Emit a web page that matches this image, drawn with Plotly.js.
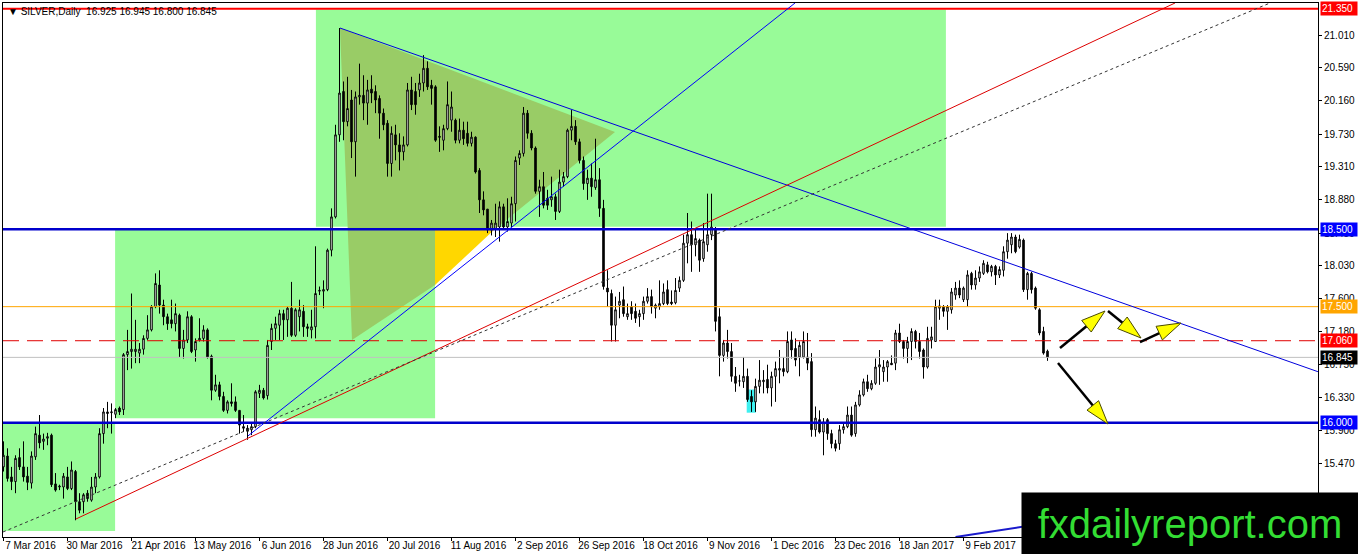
<!DOCTYPE html>
<html><head><meta charset="utf-8">
<script src="https://cdn.plot.ly/plotly-3.0.1.min.js"></script>
<style>html,body{margin:0;padding:0;background:#fff;}#chart{width:1358px;height:554px;}</style>
</head><body><div id="chart"></div>
<script>
// ---- data (daily SILVER candles) ----
const open=[15.43,15.57,15.30,15.24,15.55,15.43,15.31,15.22,15.56,15.84,
15.76,15.80,15.84,15.21,15.17,15.17,15.30,15.15,15.37,14.98,
14.98,15.09,15.00,15.17,15.30,15.86,16.14,16.13,16.11,16.19,
16.17,16.88,16.92,16.92,16.90,16.95,17.09,17.20,17.50,17.78,
17.52,17.37,17.33,17.28,17.39,16.96,17.07,17.37,16.94,17.07,
17.09,17.20,16.86,16.42,16.49,16.34,16.16,16.27,16.27,16.16,
15.95,15.93,15.91,15.95,16.38,16.42,16.35,17.05,17.22,17.26,
17.41,17.33,17.48,17.13,17.37,17.44,17.24,17.20,17.24,17.70,
17.70,17.72,18.23,18.66,19.72,20.28,19.89,20.17,19.63,20.21,
20.23,20.13,20.31,20.28,20.19,20.00,19.87,19.35,19.72,19.59,
19.50,19.59,20.30,20.28,20.30,20.39,20.58,20.36,20.34,19.70,
19.65,19.80,19.91,19.91,19.65,19.78,19.74,19.61,19.69,19.26,
18.88,18.76,18.49,18.51,18.53,18.79,18.53,18.58,18.83,19.42,
19.48,20.00,19.74,19.55,18.99,19.05,18.90,18.88,18.92,18.73,
19.11,19.18,19.78,19.83,19.63,19.39,19.09,19.16,19.04,19.14,
18.77,17.74,17.67,17.26,17.52,17.59,17.37,17.50,17.44,17.37,
17.41,17.57,17.63,17.48,17.50,17.54,17.72,17.56,17.55,17.74,
17.84,18.32,18.43,18.30,18.36,18.12,18.30,18.43,18.51,17.37,
16.87,17.03,16.92,16.60,16.54,16.53,16.60,16.34,16.27,16.47,
16.53,16.56,16.45,16.60,16.68,16.70,16.66,17.07,16.96,16.85,
16.85,16.85,16.79,15.91,16.04,15.88,16.04,15.86,15.73,15.73,
15.91,15.95,16.10,15.86,16.23,16.36,16.53,16.44,16.51,16.72,
16.66,16.72,16.77,16.77,17.16,17.05,16.96,17.05,17.18,17.05,
16.94,16.72,17.07,17.05,17.48,17.50,17.44,17.46,17.65,17.74,
17.59,17.59,17.93,17.78,17.87,17.93,18.04,17.95,18.02,17.91,
17.97,18.21,18.30,18.40,18.27,18.36,17.72,17.93,17.74,17.46,
17.18,16.925];
const high=[15.76,15.67,15.43,15.58,15.67,15.76,15.43,15.63,15.95,16.10,
15.86,15.87,15.86,15.35,15.20,15.35,15.43,15.50,15.39,15.09,
15.09,15.13,15.30,15.35,15.93,16.19,16.27,16.25,16.19,16.21,
16.90,17.20,17.67,17.33,17.03,17.13,17.39,17.52,17.93,17.97,
17.59,17.41,17.59,17.54,17.41,17.20,17.44,17.39,17.09,17.35,
17.26,17.22,16.88,16.62,16.53,16.40,16.29,16.51,16.34,16.16,
16.10,15.97,15.99,16.42,16.49,16.45,17.07,17.28,17.37,17.46,
17.46,17.50,17.82,17.48,17.59,17.52,17.28,17.46,18.28,17.76,
17.84,18.25,18.77,19.85,21.10,20.41,20.47,20.30,20.28,20.64,
20.49,20.43,20.49,20.36,20.23,20.06,19.91,19.83,19.85,19.74,
19.70,20.39,20.47,20.39,20.51,20.75,20.67,20.43,20.36,19.83,
19.85,20.41,20.28,19.93,19.93,19.89,19.89,19.76,19.70,19.29,
18.99,18.76,18.62,18.83,18.86,18.83,18.90,18.92,19.44,19.52,
20.08,20.04,19.78,19.57,19.14,19.24,19.01,19.18,18.96,19.27,
19.24,19.80,20.04,19.91,19.67,19.44,19.27,19.35,19.67,19.29,
18.88,17.97,17.72,17.63,17.69,17.76,17.54,17.57,17.54,17.46,
17.63,17.74,17.72,17.54,17.84,17.80,17.84,17.71,17.87,17.89,
18.43,18.71,18.60,18.49,18.38,18.58,18.96,18.96,18.53,17.48,
17.07,17.20,17.03,16.72,16.62,16.85,16.70,16.42,16.57,16.81,
16.68,16.75,16.66,16.79,16.94,16.85,17.18,17.18,17.09,17.05,
17.18,17.16,16.90,16.21,16.16,16.06,16.06,15.91,15.78,15.97,
15.99,16.21,16.21,16.27,16.42,16.57,16.62,16.55,16.83,16.94,
16.81,16.81,16.87,17.20,17.28,17.07,17.11,17.22,17.20,17.16,
16.96,17.24,17.24,17.59,17.59,17.52,17.52,17.74,17.82,17.84,
17.76,17.97,17.95,17.97,18.02,18.10,18.08,18.04,18.04,18.02,
18.28,18.45,18.45,18.43,18.43,18.38,17.95,17.95,17.76,17.48,
17.24,16.945];
const low=[15.37,15.24,15.13,15.09,15.39,15.24,15.13,15.15,15.52,15.67,
15.65,15.71,15.17,15.11,15.13,15.02,15.13,15.13,14.74,14.83,
14.83,14.98,14.98,15.09,15.28,15.73,15.93,15.86,16.06,16.10,
16.10,16.68,16.70,16.77,16.77,16.88,17.07,17.18,17.48,17.41,
17.26,17.20,17.22,17.18,16.85,16.83,17.03,16.90,16.79,17.05,
17.05,16.83,16.29,16.40,16.29,16.14,16.12,16.21,16.14,15.86,
15.88,15.78,15.84,15.93,16.32,16.30,16.30,16.94,17.07,17.07,
17.07,17.11,17.11,17.11,17.18,17.11,17.11,17.09,17.09,17.65,
17.48,17.70,18.15,18.64,19.63,19.65,19.83,19.42,19.18,20.11,
19.91,19.85,20.13,20.00,19.67,19.78,19.18,19.18,19.39,19.26,
19.39,19.57,20.04,19.98,20.21,20.28,20.30,20.11,19.63,19.50,
19.52,19.78,19.76,19.61,19.61,19.59,19.57,19.57,19.22,18.71,
18.68,18.45,18.42,18.40,18.34,18.49,18.47,18.53,18.60,19.33,
19.44,19.67,19.52,18.96,18.66,18.77,18.75,18.79,18.62,18.71,
19.05,19.16,19.65,19.59,19.35,19.01,18.88,18.92,19.01,18.66,
17.72,17.50,17.05,17.05,17.35,17.37,17.33,17.33,17.29,17.24,
17.33,17.54,17.41,17.35,17.46,17.52,17.52,17.52,17.53,17.69,
17.82,18.06,17.95,18.15,17.95,18.08,18.21,18.36,17.18,16.60,
16.79,16.83,16.53,16.40,16.47,16.45,16.27,16.14,16.14,16.38,
16.38,16.38,16.21,16.27,16.51,16.60,16.64,16.83,16.73,16.60,
16.83,16.68,15.82,15.82,15.86,15.58,15.78,15.67,15.63,15.65,
15.86,15.93,15.82,15.82,16.21,16.34,16.40,16.42,16.49,16.49,
16.53,16.53,16.75,16.68,17.03,16.83,16.77,16.81,16.96,16.83,
16.57,16.70,16.96,17.05,17.33,17.37,17.20,17.41,17.59,17.61,
17.56,17.50,17.72,17.72,17.82,17.91,17.93,17.89,17.78,17.87,
17.89,18.12,18.19,18.19,18.25,17.69,17.59,17.67,17.46,17.13,
16.88,16.80];
const close=[15.58,15.28,15.24,15.54,15.43,15.30,15.23,15.57,15.86,15.74,
15.79,15.82,15.20,15.13,15.18,15.31,15.15,15.39,14.98,14.87,
15.07,15.02,15.17,15.30,15.86,16.14,16.12,16.14,16.17,16.14,
16.88,16.92,16.95,16.95,16.95,17.09,17.20,17.50,17.80,17.52,
17.37,17.28,17.28,17.41,16.96,17.07,17.37,16.92,17.05,17.09,
17.20,16.85,16.42,16.49,16.34,16.16,16.27,16.25,16.16,15.97,
15.93,15.89,15.95,16.40,16.42,16.32,17.00,17.22,17.28,17.41,
17.33,17.48,17.13,17.46,17.46,17.24,17.22,17.24,17.67,17.71,
17.72,18.23,18.66,19.72,20.26,19.89,20.06,19.63,20.21,20.23,
20.13,20.30,20.26,20.17,20.00,19.85,19.35,19.74,19.59,19.50,
19.59,20.30,20.11,20.11,20.39,20.58,20.34,20.32,19.65,19.69,
19.80,20.11,20.08,19.65,19.78,19.67,19.61,19.69,19.24,18.88,
18.75,18.49,18.58,18.58,18.79,18.53,18.60,18.83,19.39,19.48,
20.00,19.74,19.55,18.99,19.05,18.81,18.81,18.92,18.73,19.11,
19.18,19.78,19.83,19.63,19.39,19.09,19.16,19.05,19.14,18.77,
17.76,17.69,17.26,17.46,17.57,17.41,17.41,17.41,17.35,17.41,
17.57,17.63,17.50,17.52,17.54,17.69,17.54,17.54,17.71,17.84,
18.32,18.43,18.30,18.38,18.10,18.34,18.43,18.53,17.31,16.87,
17.03,16.92,16.60,16.51,16.54,16.60,16.30,16.27,16.47,16.55,
16.55,16.45,16.60,16.70,16.70,16.66,17.05,16.94,16.81,17.00,
17.05,16.77,15.91,16.06,15.88,16.01,15.86,15.73,15.67,15.91,
15.95,16.10,15.84,16.23,16.36,16.53,16.44,16.51,16.72,16.75,
16.72,16.79,16.75,17.16,17.05,16.96,17.05,17.18,17.05,16.92,
16.72,17.09,17.11,17.50,17.51,17.44,17.50,17.69,17.74,17.65,
17.74,17.91,17.78,17.87,17.95,18.06,17.95,18.02,17.91,17.98,
18.21,18.36,18.40,18.21,18.37,17.72,17.93,17.72,17.48,17.16,
16.90,16.845];

const dateLabels=['7 Mar 2016','30 Mar 2016','21 Apr 2016','13 May 2016','6 Jun 2016','28 Jun 2016','20 Jul 2016','11 Aug 2016','2 Sep 2016','26 Sep 2016','18 Oct 2016','9 Nov 2016','1 Dec 2016','23 Dec 2016','18 Jan 2017','9 Feb 2017'];
const dateBars=[0,16,32,48,64,80,96,112,128,144,160,176,192,208,224,240];
const priceTicks=[15.04,15.47,15.90,16.33,16.75,17.18,17.60,18.03,18.45,18.88,19.31,19.73,20.16,20.59,21.01];

// horizontal levels
const levelPrices=[21.35,18.50,17.50,17.06,16.845,16.00];
const levelColors=['#ff0000','#0000cc','#ffa500','#e00000','#c0c0c0','#0000cc'];
const levelWidths=[2,2.5,1,1,1,2.5];
const levelDash=['solid','solid','solid','16px,8px','solid','solid'];
const labelBg=['#ff0000','#0000ff','#ffa500','#ff0000','#000000','#0000ff'];

// analyst drawings in (bar, price)
const zones=[[78.1,235.6,18.533,21.34],[-1,27.9,14.602,16.0],[27.9,107.9,16.057,18.5]];
const olivePoly=[[84.125,21.10],[152.875,19.757],[122.875,18.503],[107.875,18.503],[107.875,17.78],[87.125,17.069]];
const goldPoly=[[107.875,18.503],[122.875,18.503],[107.875,17.78]];
const cyanBox=[185.8,188.1,16.13,16.43];
const trendLines=[
  {p:[[84.125,21.10],[328.6,16.66]],c:'#0000dd',w:1,d:'solid'},
  {p:[[61.125,15.83],[197.875,21.4234]],c:'#0000ff',w:1,d:'solid'},
  {p:[[18.125,14.757],[292.875,21.4234]],c:'#dd0000',w:1,d:'solid'},
  {p:[[-0.125,14.589],[316.625,21.4234]],c:'#333333',w:1,d:'3px,3px'},
  {p:[[238.0,14.524],[264.0,14.73]],c:'#1a1acc',w:2,d:'solid'}
];
const arrows=[[264.125,16.966,275.375,17.444],[276.125,17.444,284.375,17.095],[284.125,17.043,294.375,17.289],[263.625,16.773,276.125,15.984]];

// ---- geometry ----
const W=1358,H=554,M={l:3,r:40,t:3,b:17};
const xRange=[-0.125,328.625],yRange=[14.524,21.4234];
const pw=W-M.l-M.r,ph=H-M.t-M.b;
const xpx=i=>M.l+(i-xRange[0])/(xRange[1]-xRange[0])*pw;
const ypx=p=>M.t+(yRange[1]-p)/(yRange[1]-yRange[0])*ph;
const xdat=px=>xRange[0]+(px-M.l)/pw*(xRange[1]-xRange[0]);
const ydat=py=>yRange[1]-(py-M.t)/ph*(yRange[1]-yRange[0]);
const polyPath=pts=>'M '+pts.map(q=>q[0]+' '+q[1]).join(' L ')+' Z';

const shapes=[];
zones.forEach(z=>shapes.push({type:'rect',xref:'x',yref:'y',x0:z[0],x1:z[1],y0:z[2],y1:z[3],fillcolor:'#98fb98',opacity:1,line:{width:0},layer:'below'}));
shapes.push({type:'path',xref:'x',yref:'y',path:polyPath(olivePoly),fillcolor:'#99cc66',opacity:1,line:{width:0},layer:'below'});
shapes.push({type:'path',xref:'x',yref:'y',path:polyPath(goldPoly),fillcolor:'#ffd700',opacity:1,line:{width:0},layer:'below'});
shapes.push({type:'rect',xref:'x',yref:'y',x0:cyanBox[0],x1:cyanBox[1],y0:cyanBox[2],y1:cyanBox[3],fillcolor:'#3ff0f0',opacity:1,line:{width:0},layer:'below'});
levelPrices.forEach((p,k)=>shapes.push({type:'line',xref:'paper',yref:'y',x0:0,x1:1,y0:p,y1:p,line:{color:levelColors[k],width:levelWidths[k],dash:levelDash[k]},layer:'above'}));
trendLines.forEach(t=>shapes.push({type:'line',xref:'x',yref:'y',x0:t.p[0][0],y0:t.p[0][1],x1:t.p[1][0],y1:t.p[1][1],line:{color:t.c,width:t.w,dash:t.d},layer:'above'}));
arrows.forEach(a=>{
  const tx=xpx(a[0]),ty=ypx(a[1]),hx=xpx(a[2]),hy=ypx(a[3]);
  const len=Math.hypot(hx-tx,hy-ty),ux=(hx-tx)/len,uy=(hy-ty)/len,nx=-uy,ny=ux;
  const L=24,w=7.5,bx=hx-ux*L,by=hy-uy*L;
  shapes.push({type:'line',xref:'x',yref:'y',x0:a[0],y0:a[1],x1:xdat(bx+ux*2),y1:ydat(by+uy*2),line:{color:'#000',width:2.5},layer:'above'});
  const tri=[[hx,hy],[bx+nx*w,by+ny*w],[bx-nx*w,by-ny*w]].map(q=>[xdat(q[0]),ydat(q[1])]);
  shapes.push({type:'path',xref:'x',yref:'y',path:polyPath(tri),fillcolor:'#ffff00',line:{color:'#4a4a00',width:1},layer:'above'});
});

const F='Liberation Sans, Arial, sans-serif';
const last=close.length-1;
const annotations=[];
levelPrices.forEach((p,k)=>annotations.push({xref:'paper',yref:'y',x:1,y:p,xanchor:'left',yanchor:'middle',xshift:2,showarrow:false,
  text:p.toFixed(3),bgcolor:labelBg[k],font:{family:F,size:10,color:'#ffffff'},borderpad:1,width:34,align:'left'}));
annotations.push({xref:'paper',yref:'paper',x:0,y:1,xanchor:'left',yanchor:'top',xshift:3,yshift:-1,showarrow:false,
  text:'▼ SILVER,Daily  '+[open[last],high[last],low[last],close[last]].map(v=>v.toFixed(3)).join(' '),font:{family:F,size:10,color:'#000'}});
annotations.push({xref:'paper',yref:'paper',x:(1190-M.l)/pw,y:(H-M.b-523.5)/ph,xanchor:'center',yanchor:'middle',showarrow:false,
  text:'fxdailyreport.com',bgcolor:'#000000',width:336,height:61,borderpad:0,font:{family:F,size:40,color:'#33dd33'}});

const trace={type:'candlestick',x:open.map((_,k)=>k),open,high,low,close,
  increasing:{line:{color:'#000',width:1},fillcolor:'#ffffff'},
  decreasing:{line:{color:'#000',width:1},fillcolor:'#000000'},
  whiskerwidth:0,hoverinfo:'skip',showlegend:false};

const layout={width:W,height:H,margin:M,paper_bgcolor:'#fff',plot_bgcolor:'#fff',showlegend:false,hovermode:false,boxgap:0.45,
  xaxis:{type:'linear',range:xRange,showgrid:false,zeroline:false,showline:true,mirror:true,linecolor:'#000',linewidth:1,
    ticks:'outside',ticklen:3,tickcolor:'#000',tickvals:dateBars,ticktext:dateLabels,ticklabelshift:27,ticklabelstandoff:-4,
    tickfont:{family:F,size:10,color:'#000'},rangeslider:{visible:false},fixedrange:true},
  yaxis:{side:'right',range:yRange,showgrid:false,zeroline:false,showline:true,mirror:true,linecolor:'#000',linewidth:1,
    ticks:'outside',ticklen:3,tickcolor:'#000',tickvals:priceTicks,ticktext:priceTicks.map(v=>v.toFixed(3)),
    tickfont:{family:F,size:10,color:'#000'},fixedrange:true},
  shapes,annotations};
Plotly.newPlot('chart',[trace],layout,{staticPlot:true,displayModeBar:false});
</script></body></html>
